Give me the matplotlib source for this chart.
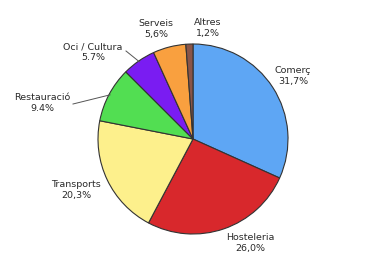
import numpy as np
import matplotlib.pyplot as plt

labels = ["Comerç", "Hosteleria", "Transports", "Restauració", "Oci / Cultura", "Serveis", "Altres"]
values = [31.7, 26.0, 20.3, 9.4, 5.7, 5.6, 1.2]
pct_text = ["31,7%", "26,0%", "20,3%", "9.4%", "5.7%", "5,6%", "1,2%"]
colors = ["#5ea6f4", "#d8282c", "#fdf08c", "#52de52", "#7a1cf2", "#f9a03f", "#8a5548"]

H = 257
cx, cy, r = 193, H - 139, 95
label_pos = [(293, 76), (250, 243), (76, 190), (42, 103), (93, 52), (156, 29), (208, 28)]
leader = {3: (73, 104), 4: (126, 51)}

fig = plt.figure(figsize=(3.79, 2.57), dpi=100)
ax = fig.add_axes([0, 0, 1, 1])

wedges, _ = ax.pie(values, colors=colors, startangle=90, counterclock=False,
                   center=(cx, cy), radius=r, frame=True,
                   wedgeprops=dict(edgecolor="#333333", linewidth=0.8))
ax.set_xlim(0, 379)
ax.set_ylim(0, H)
ax.set_aspect("equal")
ax.axis("off")

for i, (lab, p) in enumerate(zip(labels, pct_text)):
    x, y = label_pos[i]
    ax.text(x, H - y, lab + "\n" + p, ha="center", va="center",
            fontsize=6.8, color="#2a2a2a", linespacing=1.15)
    if i in leader:
        w = wedges[i]
        ang = np.deg2rad((w.theta1 + w.theta2) / 2)
        px = cx + (r - 1) * np.cos(ang)
        py = cy + (r - 1) * np.sin(ang)
        lx, ly = leader[i]
        ax.plot([lx, px], [H - ly, py], color="#555555", lw=0.7)

fig.savefig("out.png", dpi=100)
